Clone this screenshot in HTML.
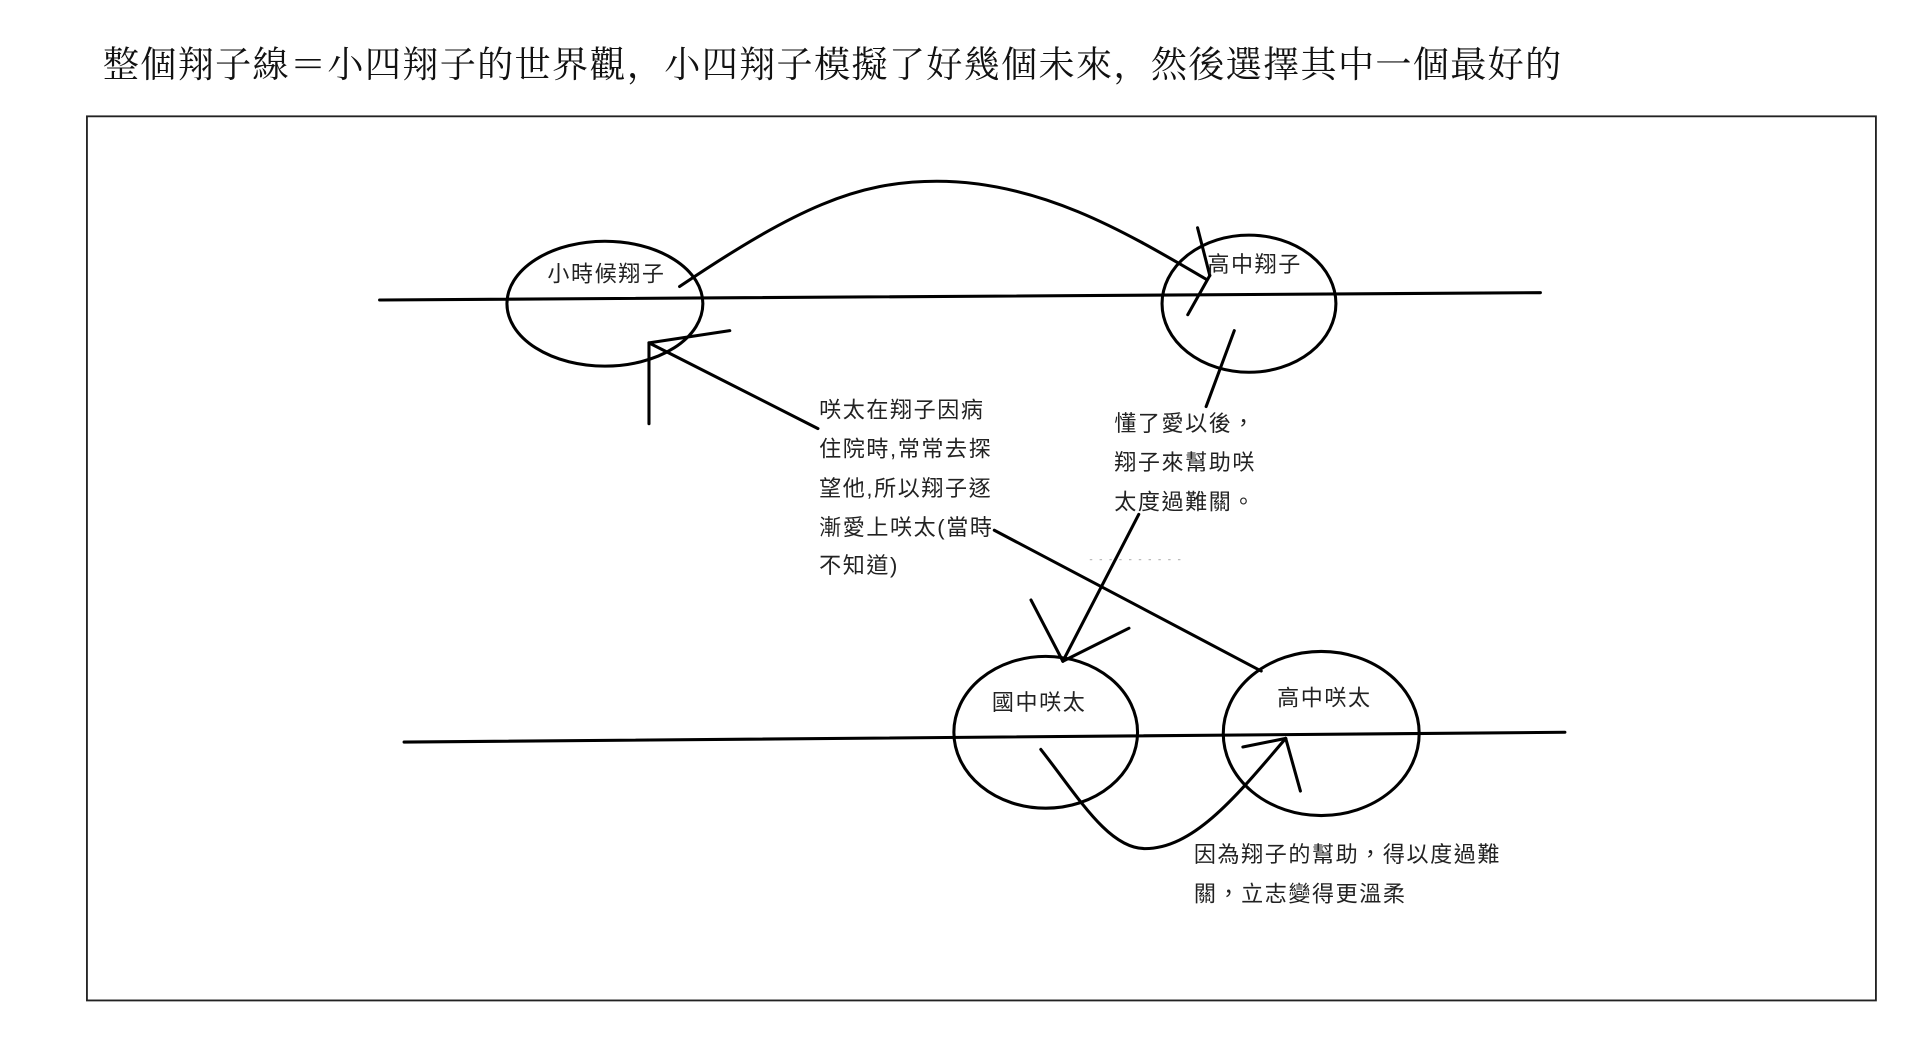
<!DOCTYPE html>
<html><head><meta charset="utf-8"><style>
html,body{margin:0;padding:0;background:#fff;width:1920px;height:1058px;overflow:hidden}
svg{display:block}
text{font-family:"Liberation Sans","Noto Sans CJK TC",sans-serif;fill:#222}
.t{font-family:"Liberation Serif","Noto Serif CJK SC",serif;fill:#111}
</style></head><body>
<svg width="1920" height="1058" viewBox="0 0 1568 864" preserveAspectRatio="none" xmlns="http://www.w3.org/2000/svg">
<text class="t" x="84" y="63" font-size="29.5" textLength="1191" lengthAdjust="spacing">整個翔子線＝小四翔子的世界觀，小四翔子模擬了好幾個未來，然後選擇其中一個最好的</text>
<rect x="71" y="95" width="1461" height="722" fill="none" stroke="#222" stroke-width="1.5"/>
<g fill="none" stroke="#000" stroke-width="2.5" stroke-linecap="round">
<line x1="310" y1="245" x2="1258" y2="239"/>
<ellipse cx="494" cy="248" rx="80" ry="51"/>
<ellipse cx="1020" cy="248" rx="71" ry="56"/>
<path d="M555,234 C650,170 700,148 765,148 C850,148 920,190 985,228"/>
<line x1="978" y1="186" x2="988" y2="225"/>
<line x1="970" y1="257" x2="988" y2="225"/>
<line x1="1008" y1="270" x2="985" y2="332"/>
<line x1="930" y1="420" x2="868" y2="540"/>
<line x1="842" y1="490" x2="868" y2="540"/>
<line x1="922" y1="513" x2="868" y2="540"/>
<line x1="668" y1="350" x2="530" y2="280"/>
<line x1="530" y1="280" x2="596" y2="270"/>
<line x1="530" y1="280" x2="530" y2="346"/>
<line x1="812" y1="433" x2="1030" y2="548"/>
<line x1="330" y1="606" x2="1278" y2="598"/>
<ellipse cx="854" cy="598" rx="75" ry="62"/>
<ellipse cx="1079" cy="599" rx="80" ry="67"/>
<path d="M850,612 C880,650 905,693 935,693 C975,693 1010,650 1050,603"/>
<line x1="1015" y1="610" x2="1050" y2="603"/>
<line x1="1062" y1="646" x2="1050" y2="603"/>
</g>
<line x1="890" y1="457" x2="965" y2="457" stroke="#bbb" stroke-width="1" stroke-dasharray="2,6"/>
<g font-size="18" letter-spacing="1.3">
<text x="447" y="230">小時候翔子</text>
<text x="986" y="222">高中翔子</text>
<text x="910" y="352">懂了愛以後，</text>
<text x="910" y="384">翔子來幫助咲</text>
<text x="910" y="416">太度過難關。</text>
<text x="669" y="341">咲太在翔子因病</text>
<text x="669" y="373">住院時,常常去探</text>
<text x="669" y="405">望他,所以翔子逐</text>
<text x="669" y="437">漸愛上咲太(當時</text>
<text x="669" y="468">不知道)</text>
<text x="810" y="580">國中咲太</text>
<text x="1043" y="576">高中咲太</text>
<text x="975" y="704">因為翔子的幫助，得以度過難</text>
<text x="975" y="736">關，立志變得更溫柔</text>
</g>
</svg>
</body></html>
